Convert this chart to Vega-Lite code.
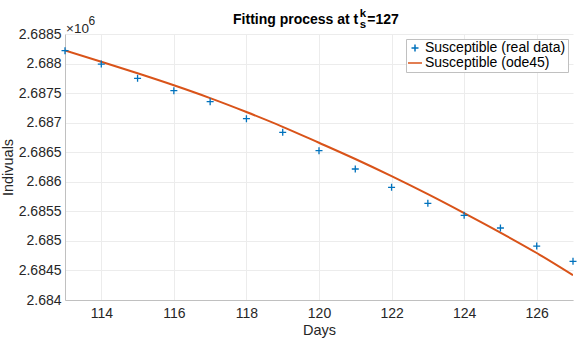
{
  "$schema": "https://vega.github.io/schema/vega-lite/v6.json",
  "width": 508,
  "height": 266,
  "autosize": {"type": "none"},
  "padding": {"left": 65, "top": 34, "right": 8, "bottom": 42},
  "background": "white",
  "config": {
    "font": "Liberation Sans",
    "view": {"stroke": null},
    "axis": {
      "labelFont": "Liberation Sans",
      "labelFontSize": 14,
      "labelColor": "#262626",
      "titleFont": "Liberation Sans",
      "titleFontSize": 14.5,
      "titleFontWeight": "normal",
      "titleColor": "#262626",
      "domainColor": "#c0c0c0",
      "gridColor": "#ececec",
      "ticks": false
    },
    "legend": {
      "orient": "top-right",
      "offset": 5,
      "labelFont": "Liberation Sans",
      "labelFontSize": 14,
      "labelColor": "#000000",
      "strokeColor": "#c0c0c0",
      "fillColor": "white",
      "padding": 2,
      "rowPadding": 1,
      "symbolSize": 49,
      "labelOffset": 3
    }
  },
  "datasets": {
    "real": [
      {"day": 113, "value": 2688218, "series": "Susceptible (real data)"},
      {"day": 114, "value": 2687992, "series": "Susceptible (real data)"},
      {"day": 115, "value": 2687750, "series": "Susceptible (real data)"},
      {"day": 116, "value": 2687541, "series": "Susceptible (real data)"},
      {"day": 117, "value": 2687355, "series": "Susceptible (real data)"},
      {"day": 118, "value": 2687067, "series": "Susceptible (real data)"},
      {"day": 119, "value": 2686836, "series": "Susceptible (real data)"},
      {"day": 120, "value": 2686526, "series": "Susceptible (real data)"},
      {"day": 121, "value": 2686216, "series": "Susceptible (real data)"},
      {"day": 122, "value": 2685906, "series": "Susceptible (real data)"},
      {"day": 123, "value": 2685635, "series": "Susceptible (real data)"},
      {"day": 124, "value": 2685432, "series": "Susceptible (real data)"},
      {"day": 125, "value": 2685218, "series": "Susceptible (real data)"},
      {"day": 126, "value": 2684913, "series": "Susceptible (real data)"},
      {"day": 127, "value": 2684654, "series": "Susceptible (real data)"}
    ],
    "fit": [
      {"day": 113, "value": 2688220, "series": "Susceptible (ode45)"},
      {"day": 114, "value": 2688030, "series": "Susceptible (ode45)"},
      {"day": 115, "value": 2687835, "series": "Susceptible (ode45)"},
      {"day": 116, "value": 2687632, "series": "Susceptible (ode45)"},
      {"day": 117, "value": 2687415, "series": "Susceptible (ode45)"},
      {"day": 118, "value": 2687180, "series": "Susceptible (ode45)"},
      {"day": 119, "value": 2686930, "series": "Susceptible (ode45)"},
      {"day": 120, "value": 2686660, "series": "Susceptible (ode45)"},
      {"day": 121, "value": 2686385, "series": "Susceptible (ode45)"},
      {"day": 122, "value": 2686095, "series": "Susceptible (ode45)"},
      {"day": 123, "value": 2685790, "series": "Susceptible (ode45)"},
      {"day": 124, "value": 2685470, "series": "Susceptible (ode45)"},
      {"day": 125, "value": 2685140, "series": "Susceptible (ode45)"},
      {"day": 126, "value": 2684795, "series": "Susceptible (ode45)"},
      {"day": 127, "value": 2684420, "series": "Susceptible (ode45)"}
    ]
  },
  "layer": [
    {
      "data": {"name": "fit"},
      "mark": {"type": "line", "strokeWidth": 2, "clip": true, "interpolate": "monotone"},
      "encoding": {
        "x": {
          "field": "day",
          "type": "quantitative",
          "scale": {"domain": [113, 127], "nice": false, "zero": false},
          "axis": {"title": "Days", "values": [114, 116, 118, 120, 122, 124, 126], "tickCount": 7, "labelOverlap": false, "labelPadding": 6, "titlePadding": 3}
        },
        "y": {
          "field": "value",
          "type": "quantitative",
          "scale": {"domain": [2684000, 2688500], "nice": false, "zero": false},
          "axis": {
            "title": "Indivuals",
            "values": [2684000, 2684500, 2685000, 2685500, 2686000, 2686500, 2687000, 2687500, 2688000, 2688500],
            "tickCount": 10,
            "labelExpr": "format(datum.value / 1000000, '.4~f')",
            "labelOverlap": false,
            "labelFlush": false,
            "labelPadding": 4,
            "titlePadding": 3
          }
        },
        "color": {
          "field": "series",
          "type": "nominal",
          "scale": {"domain": ["Susceptible (real data)", "Susceptible (ode45)"], "range": ["#0072BD", "#D95319"]}
        }
      }
    },
    {
      "data": {"name": "real"},
      "mark": {"type": "point", "filled": false, "strokeWidth": 1.3, "opacity": 1, "size": 49},
      "encoding": {
        "x": {
          "field": "day",
          "type": "quantitative",
          "axis": {"title": "Days", "values": [114, 116, 118, 120, 122, 124, 126], "tickCount": 7, "labelOverlap": false, "labelPadding": 6, "titlePadding": 3}
        },
        "y": {
          "field": "value",
          "type": "quantitative",
          "axis": {
            "title": "Indivuals",
            "values": [2684000, 2684500, 2685000, 2685500, 2686000, 2686500, 2687000, 2687500, 2688000, 2688500],
            "tickCount": 10,
            "labelExpr": "format(datum.value / 1000000, '.4~f')",
            "labelOverlap": false,
            "labelFlush": false,
            "labelPadding": 4,
            "titlePadding": 3
          }
        },
        "color": {
          "field": "series",
          "type": "nominal",
          "legend": {
            "title": null,
            "encode": {
              "symbols": {
                "update": {
                  "strokeWidth": {"signal": "datum.value === 'Susceptible (ode45)' ? 2 : 1.2"}
                }
              }
            }
          }
        },
        "shape": {
          "field": "series",
          "type": "nominal",
          "scale": {"domain": ["Susceptible (real data)", "Susceptible (ode45)"], "range": ["M-1,0H1M0,-1V1", "M-2,0H2"]},
          "legend": {"title": null}
        }
      }
    },
    {
      "data": {"values": [{"t": "×10"}]},
      "mark": {"type": "text", "align": "left", "baseline": "alphabetic", "dx": 1, "dy": -1, "fontSize": 13.5, "color": "#262626"},
      "encoding": {"x": {"datum": 113}, "y": {"datum": 2688500}, "text": {"field": "t"}}
    },
    {
      "data": {"values": [{"t": "6"}]},
      "mark": {"type": "text", "align": "left", "baseline": "alphabetic", "dx": 23.5, "dy": -9, "fontSize": 12, "color": "#262626"},
      "encoding": {"x": {"datum": 113}, "y": {"datum": 2688500}, "text": {"field": "t"}}
    },
    {
      "data": {"values": [{"t": "Fitting process at t"}]},
      "mark": {"type": "text", "align": "right", "baseline": "alphabetic", "dx": 3, "dy": -10, "fontSize": 14, "fontWeight": "bold", "color": "#000000"},
      "encoding": {"x": {"datum": 121}, "y": {"datum": 2688500}, "text": {"field": "t"}}
    },
    {
      "data": {"values": [{"t": "k"}]},
      "mark": {"type": "text", "align": "left", "baseline": "alphabetic", "dx": 4.5, "dy": -17.5, "fontSize": 11.5, "fontWeight": "bold", "color": "#000000"},
      "encoding": {"x": {"datum": 121}, "y": {"datum": 2688500}, "text": {"field": "t"}}
    },
    {
      "data": {"values": [{"t": "s"}]},
      "mark": {"type": "text", "align": "left", "baseline": "alphabetic", "dx": 4.5, "dy": -6, "fontSize": 11.5, "fontWeight": "bold", "color": "#000000"},
      "encoding": {"x": {"datum": 121}, "y": {"datum": 2688500}, "text": {"field": "t"}}
    },
    {
      "data": {"values": [{"t": "=127"}]},
      "mark": {"type": "text", "align": "left", "baseline": "alphabetic", "dx": 12, "dy": -10, "fontSize": 14, "fontWeight": "bold", "color": "#000000"},
      "encoding": {"x": {"datum": 121}, "y": {"datum": 2688500}, "text": {"field": "t"}}
    }
  ]
}
